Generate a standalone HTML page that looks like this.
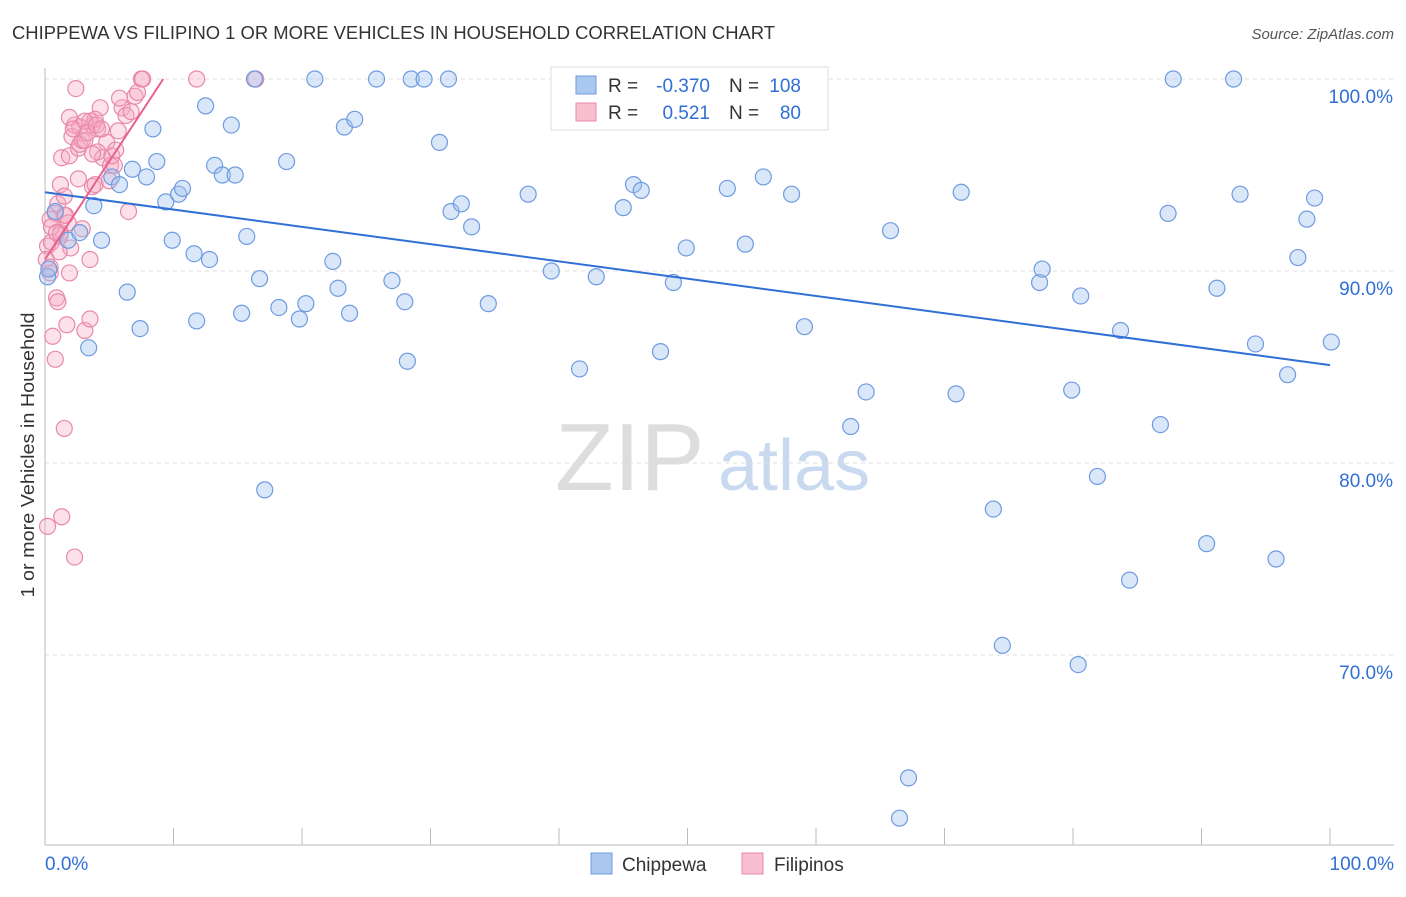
<!DOCTYPE html>
<html><head><meta charset="utf-8"><style>
body{margin:0;background:#fff;font-family:"Liberation Sans",sans-serif;}
svg text{font-family:"Liberation Sans",sans-serif;}
</style></head><body>
<svg id="chart" width="1406" height="892">
<text x="12" y="39" font-size="18" fill="#333" textLength="763" lengthAdjust="spacingAndGlyphs">CHIPPEWA VS FILIPINO 1 OR MORE VEHICLES IN HOUSEHOLD CORRELATION CHART</text>
<text x="1394" y="39" font-size="15" fill="#555" text-anchor="end" font-style="italic">Source: ZipAtlas.com</text>
<text x="34" y="455" font-size="18" fill="#333" text-anchor="middle" textLength="285" lengthAdjust="spacingAndGlyphs" transform="rotate(-90 34 455)">1 or more Vehicles in Household</text>
<text x="555" y="490" font-size="96" fill="#ddd" font-family="Liberation Serif">ZIP</text>
<text x="718" y="490" font-size="72" fill="#c9daf0">atlas</text>
<g id="grid"></g><g id="axes"></g><g id="pink"></g><g id="blue"></g><g id="trends"></g>
<g>
<rect x="551" y="67" width="277" height="63" fill="#fff" stroke="#ddd"/>
<rect x="576" y="76" width="20" height="18" fill="#aac8ef" stroke="#6f9be0"/>
<rect x="576" y="103" width="20" height="18" fill="#f8bfd0" stroke="#e889a8"/>
<text x="608" y="92" font-size="19" fill="#333">R =</text>
<text x="710" y="92" font-size="19" fill="#2f6fd6" text-anchor="end">-0.370</text>
<text x="729" y="92" font-size="19" fill="#333">N =</text>
<text x="801" y="92" font-size="19" fill="#2f6fd6" text-anchor="end">108</text>
<text x="608" y="119" font-size="19" fill="#333">R =</text>
<text x="710" y="119" font-size="19" fill="#2f6fd6" text-anchor="end">0.521</text>
<text x="729" y="119" font-size="19" fill="#333">N =</text>
<text x="801" y="119" font-size="19" fill="#2f6fd6" text-anchor="end">80</text>
</g>
<g>
<rect x="591" y="853" width="21" height="21" fill="#aac8ef" stroke="#6f9be0"/>
<text x="622" y="871" font-size="19" fill="#333">Chippewa</text>
<rect x="742" y="853" width="21" height="21" fill="#f8bfd0" stroke="#e889a8"/>
<text x="774" y="871" font-size="19" fill="#333">Filipinos</text>
</g>
</svg>
<script>
const yTicks=[100,90,80,70];
const xTickLabels=["0.0%","100.0%"];
const blueX=[0.8,1.8,2.7,3.4,3.8,4.4,5.2,5.8,6.4,6.8,7.4,7.9,8.4,8.7,9.4,9.9,10.4,10.7,11.6,11.8,12.5,12.8,13.2,13.8,14.5,14.8,15.3,15.7,16.3,16.7,17.1,18.2,18.8,19.8,20.3,21.0,22.4,22.8,23.3,23.7,24.1,25.8,27.0,28.0,28.2,28.5,29.5,30.7,31.4,31.6,32.4,33.2,34.5,37.6,39.4,41.6,42.9,45.0,45.8,46.4,47.9,48.9,49.9,53.1,54.5,55.4,55.9,58.1,59.1,62.7,63.9,65.8,67.2,66.5,70.9,71.3,73.8,74.5,77.4,77.6,79.9,80.4,80.6,81.9,83.7,84.4,86.8,87.4,87.8,90.4,91.2,92.5,93.0,94.2,97.5,95.8,96.7,98.2,98.8,100.1,0.2,0.3,44.7];
const blueY=[93.1,91.6,92.0,86.0,93.4,91.6,94.9,94.5,88.9,95.3,87.0,94.9,97.4,95.7,93.6,91.6,94.0,94.3,90.9,87.4,98.6,90.6,95.5,95.0,97.6,95.0,87.8,91.8,100,89.6,78.6,88.1,95.7,87.5,88.3,100,90.5,89.1,97.5,87.8,97.9,100,89.5,88.4,85.3,100,100,96.7,100,93.1,93.5,92.3,88.3,94.0,90.0,84.9,89.7,93.3,94.5,94.2,85.8,89.4,91.2,94.3,91.4,100,94.9,94.0,87.1,81.9,83.7,92.1,63.6,61.5,83.6,94.1,77.6,70.5,89.4,90.1,83.8,69.5,88.7,79.3,86.9,73.9,82.0,93.0,100,75.8,89.1,100,94.0,86.2,90.7,75.0,84.6,92.7,93.8,86.3,89.7,90.1,100];
const pinkX=[0.2,0.2,0.4,0.5,0.6,0.8,0.9,1.0,1.2,1.3,1.5,1.7,1.9,2.0,2.3,2.4,2.7,2.9,3.1,3.5,3.5,3.7,3.9,4.1,4.3,4.5,4.8,5.0,5.1,5.4,5.7,6.0,6.3,6.5,6.7,7.0,7.2,7.5,7.6,11.8,16.4,1.2,1.3,1.9,2.1,2.3,2.6,2.7,2.9,3.1,3.5,3.7,3.9,4.1,1.5,1.8,0.8,1.0,1.2,0.4,0.5,0.9,1.5,1.6,1.9,2.2,3.1,3.3,3.7,4.0,4.4,5.2,5.5,5.8,0.1,0.4,1.1,2.6];
const pinkY=[76.7,91.3,89.9,91.5,86.6,85.4,88.6,88.4,92.0,77.2,81.8,87.2,89.9,91.2,75.1,99.5,97.5,92.2,86.9,87.5,90.6,94.4,94.5,97.4,98.5,95.9,96.7,94.7,95.5,95.5,97.3,98.5,98.1,93.1,98.3,99.1,99.3,100,100,100,100,94.5,95.9,96.0,97.0,97.6,96.4,96.6,96.8,96.8,97.8,97.6,97.9,96.2,92.9,92.5,93.0,93.5,91.9,92.7,92.3,92.0,93.9,92.9,98.0,97.4,97.8,97.2,96.1,97.6,97.4,96.0,96.3,99.0,90.6,90.2,91.0,94.8];
const trendBlue=[0,94.1,100,85.1];
const trendPink=[0,90.6,9.2,100];
const X=v=>45+v*12.85, Y=v=>79+(100-v)*19.2;
const NS="http://www.w3.org/2000/svg";
function mk(g,t,a){const e=document.createElementNS(NS,t);for(const k in a)e.setAttribute(k,a[k]);document.getElementById(g).appendChild(e);return e;}
yTicks.forEach(t=>{
 const l=mk('grid','line',{x1:45,x2:1394,y1:Y(t),y2:Y(t),stroke:'#ddd','stroke-dasharray':'4,4'});
 
 
 const tx=mk('grid','text',{x:1393,y:Y(t)+24,'font-size':19,fill:'#2f6fd6','text-anchor':'end'});
 tx.textContent=t.toFixed(1)+'%';
 
 
});
mk('axes','line',{x1:45,x2:45,y1:68,y2:845,stroke:'#bbb'});
mk('axes','line',{x1:45,x2:1394,y1:845,y2:845,stroke:'#bbb'});
for(let i=0;i<=10;i++){const t=mk('axes','line',{x1:X(i*10),x2:X(i*10),y1:828,y2:845,stroke:'#bbb'});
 
 }
[[45,'start',0],[1394,'end',1]].forEach(([x,a,i])=>{const t=mk('axes','text',{x:x,y:870,'font-size':19,fill:'#2f6fd6','text-anchor':a});t.textContent=xTickLabels[i];
 
 });
pinkX.forEach((v,i)=>{const c=mk('pink','circle',{cx:X(v),cy:Y(pinkY[i]),r:8,fill:'rgba(245,170,195,0.35)',stroke:'#e889a8','stroke-width':1.2});
 
 });
blueX.forEach((v,i)=>{if(blueY[i]===undefined)return;const c=mk('blue','circle',{cx:X(v),cy:Y(blueY[i]),r:8,fill:'rgba(160,195,240,0.4)',stroke:'#6f9be0','stroke-width':1.2});
 
 });
const tb=mk('trends','line',{x1:X(trendBlue[0]),y1:Y(trendBlue[1]),x2:X(trendBlue[2]),y2:Y(trendBlue[3]),stroke:'#2f6fd6','stroke-width':2});


const tp=mk('trends','line',{x1:X(trendPink[0]),y1:Y(trendPink[1]),x2:X(trendPink[2]),y2:Y(trendPink[3]),stroke:'#e8608c','stroke-width':2});


</script>
</body></html>
